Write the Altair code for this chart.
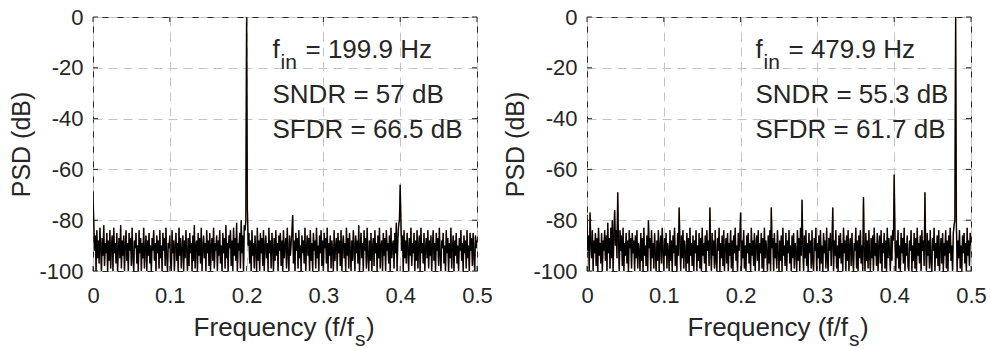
import altair as alt
import pandas as pd

# ---------------- data ----------------
freq = [round(i * 0.001, 3) for i in range(501)]  # f/fs bins, 0 .. 0.5

psd_left = [
    -70, -81, -92, -86, -100, -84, -95, -88, -97, -83, -91, -100, -87, -94, -82, -98, -89, -93, -85, -100,
    -88, -96, -84, -99, -90, -86, -100, -83, -93, -89, -97, -85, -100, -91, -87, -95, -82, -99, -88, -94,
    -86, -100, -90, -84, -96, -89, -100, -85, -92, -87, -98, -83, -94, -100, -88, -91, -85, -97, -90, -100,
    -84, -93, -87, -100, -89, -95, -83, -99, -91, -86, -100, -88, -94, -85, -97, -90, -100, -87, -92, -84,
    -96, -89, -100, -86, -93, -88, -99, -84, -95, -90, -100, -85, -92, -87, -98, -83, -94, -100, -89, -91,
    -86, -97, -100, -84, -93, -88, -100, -90, -85, -96, -89, -100, -83, -94, -87, -99, -91, -86, -100, -88,
    -95, -84, -92, -100, -87, -98, -85, -93, -89, -100, -86, -96, -82, -99, -90, -88, -100, -85, -94, -87,
    -97, -83, -100, -91, -86, -95, -89, -100, -84, -93, -88, -98, -85, -100, -90, -87, -96, -83, -99, -89,
    -92, -86, -100, -88, -94, -84, -97, -90, -100, -85, -93, -87, -99, -82, -95, -89, -100, -86, -91, -84,
    -98, -88, -100, -83, -94, -87, -96, -81, -100, -89, -92, -85, -99, -80, -93, -86, -100, -82, -84, -80,
    0, -75, -90, -85, -97, -88, -100, -84, -94, -89, -99, -86, -92, -100, -83, -96, -88, -100, -85, -93,
    -87, -98, -84, -100, -90, -86, -95, -89, -100, -83, -93, -88, -99, -85, -91, -100, -87, -96, -84, -94,
    -89, -100, -86, -92, -85, -98, -88, -100, -84, -95, -90, -87, -99, -83, -93, -100, -86, -94, -89, -85,
    -78, -97, -88, -100, -85, -92, -87, -99, -84, -95, -90, -100, -86, -93, -88, -97, -83, -100, -91, -86,
    -94, -87, -100, -84, -96, -89, -100, -85, -92, -88, -99, -83, -95, -90, -100, -86, -93, -84, -98, -88,
    -100, -85, -91, -87, -97, -83, -100, -89, -94, -86, -99, -88, -92, -100, -84, -96, -90, -87, -100, -85,
    -93, -88, -98, -84, -100, -90, -86, -95, -89, -100, -83, -94, -87, -99, -85, -92, -100, -88, -96, -84,
    -91, -100, -86, -93, -88, -97, -82, -100, -90, -85, -95, -89, -100, -84, -92, -87, -99, -83, -94, -100,
    -88, -96, -85, -100, -91, -87, -98, -84, -93, -89, -100, -86, -95, -83, -99, -90, -88, -100, -85, -94,
    -87, -100, -84, -92, -89, -97, -86, -100, -83, -95, -90, -88, -99, -85, -93, -81, -100, -87, -82, -80,
    -66, -82, -92, -86, -100, -84, -95, -88, -97, -85, -91, -100, -87, -94, -83, -98, -89, -93, -85, -100,
    -88, -96, -84, -99, -90, -86, -100, -83, -93, -89, -97, -85, -100, -91, -87, -95, -84, -99, -88, -94,
    -86, -100, -90, -84, -96, -89, -100, -85, -92, -87, -98, -83, -94, -100, -88, -91, -85, -97, -90, -100,
    -84, -93, -87, -100, -89, -95, -83, -99, -91, -86, -100, -88, -94, -85, -97, -90, -100, -87, -92, -84,
    -96, -89, -100, -86, -93, -88, -99, -84, -95, -90, -100, -85, -92, -87, -98, -85, -94, -100, -86, -91,
    -88,
]

psd_right = [
    -78, -92, -86, -100, -77, -89, -95, -84, -100, -88, -93, -85, -98, -87, -100, -83, -94, -89, -97, -85,
    -100, -88, -92, -84, -96, -86, -100, -81, -93, -87, -99, -83, -95, -80, -100, -86, -76, -90, -84, -95,
    -69, -88, -100, -84, -92, -86, -98, -83, -100, -89, -94, -85, -97, -88, -100, -84, -91, -87, -99, -85,
    -93, -88, -100, -86, -95, -84, -99, -89, -92, -100, -85, -96, -87, -100, -83, -94, -90, -98, -86, -100,
    -80, -91, -87, -100, -84, -95, -89, -99, -85, -93, -100, -88, -96, -84, -100, -90, -86, -97, -83, -92,
    -100, -87, -94, -85, -99, -89, -92, -100, -84, -96, -88, -100, -86, -93, -83, -98, -90, -100, -85, -94,
    -75, -89, -100, -86, -95, -84, -99, -88, -92, -100, -85, -97, -87, -100, -83, -94, -89, -98, -86, -100,
    -88, -93, -84, -100, -90, -96, -85, -99, -87, -100, -83, -94, -89, -97, -86, -100, -84, -92, -88, -98,
    -75, -90, -100, -85, -94, -88, -99, -84, -96, -100, -87, -92, -83, -100, -89, -95, -86, -98, -84, -100,
    -91, -87, -97, -85, -100, -89, -94, -84, -99, -88, -100, -86, -93, -83, -96, -90, -100, -85, -92, -87,
    -77, -100, -88, -95, -84, -99, -90, -100, -86, -93, -85, -97, -89, -100, -83, -94, -88, -98, -85, -100,
    -90, -86, -96, -84, -100, -89, -93, -85, -99, -87, -100, -83, -95, -88, -92, -100, -86, -97, -84, -100,
    -75, -91, -87, -100, -85, -95, -89, -99, -84, -93, -100, -88, -96, -86, -100, -83, -94, -90, -98, -85,
    -100, -88, -93, -84, -97, -90, -100, -86, -95, -85, -99, -89, -92, -100, -84, -96, -87, -100, -83, -94,
    -72, -90, -100, -86, -95, -84, -98, -89, -100, -85, -93, -88, -99, -84, -96, -100, -87, -92, -83, -100,
    -89, -95, -86, -100, -84, -97, -90, -100, -85, -93, -88, -99, -83, -96, -100, -87, -92, -85, -98, -89,
    -75, -100, -88, -94, -84, -99, -90, -100, -86, -95, -85, -97, -89, -100, -83, -93, -88, -100, -86, -96,
    -84, -100, -90, -87, -98, -85, -94, -100, -89, -92, -83, -99, -88, -100, -86, -95, -84, -97, -90, -100,
    -71, -92, -100, -85, -96, -88, -99, -84, -93, -100, -87, -95, -86, -100, -83, -94, -89, -98, -85, -100,
    -90, -86, -97, -84, -100, -89, -93, -85, -99, -88, -100, -83, -95, -87, -92, -100, -86, -96, -84, -88,
    -62, -86, -100, -88, -95, -84, -99, -90, -100, -85, -93, -87, -97, -83, -100, -89, -94, -86, -98, -100,
    -88, -92, -84, -100, -90, -96, -85, -99, -87, -100, -83, -94, -89, -97, -86, -100, -84, -92, -88, -98,
    -69, -90, -100, -85, -94, -88, -99, -84, -96, -100, -87, -92, -83, -100, -89, -95, -86, -98, -84, -100,
    -91, -87, -97, -85, -100, -89, -94, -84, -99, -88, -100, -86, -93, -83, -96, -90, -100, -85, -82, -80,
    0, -82, -100, -88, -95, -84, -99, -90, -100, -86, -93, -85, -97, -89, -100, -83, -94, -88, -98, -85,
    -90,
]

x_ticks = [0, 0.1, 0.2, 0.3, 0.4, 0.5]
y_ticks = [0, -20, -40, -60, -80, -100]

fin_labels = ["= 199.9 Hz", "= 479.9 Hz"]
sndr_labels = ["SNDR = 57 dB", "SNDR = 55.3 dB"]
sfdr_labels = ["SFDR = 66.5 dB", "SFDR = 61.7 dB"]

# ---------------- style ----------------
W, H = 384, 254
FONT = "Liberation Sans"
TXT = "#262626"
ANN_X = [179.5, 168.5]  # annotation left edge in each panel (px)

xscale = alt.Scale(domain=[0, 0.5], nice=False, zero=False)
yscale = alt.Scale(domain=[-100, 0], nice=False)


def panel(vals, k):
    df = pd.DataFrame({"f": freq, "psd": vals})
    xax = alt.Axis(values=x_ticks, title=None, grid=True, tickSize=0, labelPadding=14,
                   labelFlush=False,
                   labelExpr="datum.value == 0 ? '0' : format(datum.value, '.1f')",
                   domain=False)
    yax = alt.Axis(values=y_ticks, title="PSD (dB)", grid=True, tickSize=0, labelPadding=10,
                   titlePadding=4, labelFlush=False,
                   labelExpr="datum.value == 0 ? '0' : '-' + abs(datum.value)",
                   domain=False)
    base = alt.Chart(df).encode(
        x=alt.X("f:Q", scale=xscale, axis=xax),
        y=alt.Y("psd:Q", scale=yscale, axis=yax),
    )
    brown = base.mark_line(color="#9a6a52", strokeWidth=1.5, clip=True)
    black = base.mark_line(color="#000000", strokeWidth=1.2, clip=True)

    xt = pd.DataFrame({"t": x_ticks})
    yt = pd.DataFrame({"t": y_ticks})
    tick_col = "#262626"
    tb = alt.Chart(xt).mark_rule(color=tick_col, strokeWidth=1).encode(
        x=alt.X("t:Q", scale=xscale), y=alt.value(H - 5), y2=alt.value(H))
    tt = alt.Chart(xt).mark_rule(color=tick_col, strokeWidth=1).encode(
        x=alt.X("t:Q", scale=xscale), y=alt.value(0), y2=alt.value(5))
    tl = alt.Chart(yt).mark_rule(color=tick_col, strokeWidth=1).encode(
        y=alt.Y("t:Q", scale=yscale), x=alt.value(0), x2=alt.value(5))
    tr = alt.Chart(yt).mark_rule(color=tick_col, strokeWidth=1).encode(
        y=alt.Y("t:Q", scale=yscale), x=alt.value(W - 5), x2=alt.value(W))

    ax = ANN_X[k]
    one = pd.DataFrame({"d": [0]})

    def txt(s, x, y, size, align="left"):
        return alt.Chart(one).mark_text(
            text=s, font=FONT, fontSize=size, color=TXT, align=align, baseline="alphabetic"
        ).encode(x=alt.value(x), y=alt.value(y))

    ann = [
        txt("f", ax, 41, 26),
        txt("in", ax + 8, 52, 21),
        txt(fin_labels[k], ax + 33, 41, 26),
        txt(sndr_labels[k], ax, 86, 26),
        txt(sfdr_labels[k], ax, 121, 26),
        txt("Frequency (f/f", 261, 319, 26, align="right"),
        txt("s", 262, 329, 21),
        txt(")", 273, 319, 26),
    ]
    return alt.layer(brown, black, tb, tt, tl, tr, *ann).properties(width=W, height=H)


chart = alt.hconcat(panel(psd_left, 0), panel(psd_right, 1), spacing=10).configure(
    font=FONT,
    padding={"left": 9, "top": 5, "right": 0, "bottom": 0},
).configure_view(
    stroke="#262626", strokeWidth=1
).configure_axis(
    labelFont=FONT, titleFont=FONT, labelFontSize=22, titleFontSize=25,
    labelColor=TXT, titleColor=TXT, titleFontWeight="normal",
    gridColor="#c4c4c4", gridDash=[9, 6], gridWidth=1,
)

chart.save("out.html", embed_options={"renderer": "svg", "actions": False})
